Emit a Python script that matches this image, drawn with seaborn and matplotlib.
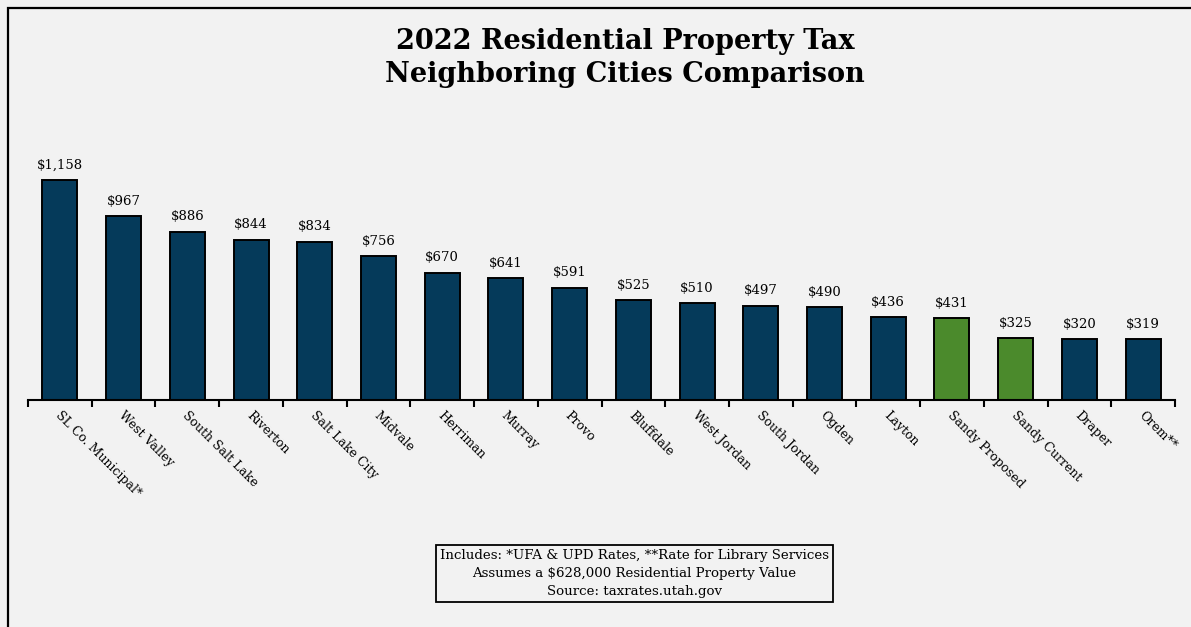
import matplotlib
matplotlib.use("Agg")
import matplotlib.pyplot as plt
import matplotlib.transforms as mtransforms
from matplotlib.patches import Rectangle
import seaborn as sns
import pandas as pd

cities = ["SL Co. Municipal*", "West Valley", "South Salt Lake", "Riverton",
          "Salt Lake City", "Midvale", "Herriman", "Murray", "Provo", "Bluffdale",
          "West Jordan", "South Jordan", "Ogden", "Layton", "Sandy Proposed",
          "Sandy Current", "Draper", "Orem**"]
tax = [1158, 967, 886, 844, 834, 756, 670, 641, 591, 525, 510, 497, 490, 436,
       431, 325, 320, 319]
group = ["Other"] * 14 + ["Sandy", "Sandy"] + ["Other"] * 2

title = "2022 Residential Property Tax\nNeighboring Cities Comparison"
note_lines = ["Includes: *UFA & UPD Rates, **Rate for Library Services",
              "Assumes a $628,000 Residential Property Value",
              "Source: taxrates.utah.gov"]

NAVY = "#053a5a"
GREEN = "#4b8a2c"
BG = "#f2f2f2"

df = pd.DataFrame({"city": cities, "tax": tax, "group": group})

sns.set_style("white")
plt.rcParams["font.family"] = ["DejaVu Serif"]
plt.rcParams["text.color"] = "black"
plt.rcParams["xtick.color"] = "black"
plt.rcParams["xtick.labelcolor"] = "black"

W, H = 1191, 627
fig = plt.figure(figsize=(W / 100, H / 100), dpi=100, facecolor=BG)
ax = fig.add_axes([28 / W, (H - 400) / H, (1175 - 28) / W, 266 / H])
ax.set_facecolor(BG)

sns.barplot(data=df, x="city", y="tax", hue="group",
            palette={"Other": NAVY, "Sandy": GREEN}, dodge=False, saturation=1,
            width=0.55, edgecolor="black", linewidth=1.4, legend=False, ax=ax)

ax.set_ylim(0, 1400)
ax.set_xlim(-0.5, len(cities) - 0.5)
for s in ["top", "right", "left"]:
    ax.spines[s].set_visible(False)
ax.spines["bottom"].set_linewidth(1.5)
ax.spines["bottom"].set_color("black")
ax.set_yticks([])
ax.set_xlabel("")
ax.set_ylabel("")

# value labels above each bar
for i, v in enumerate(tax):
    ax.annotate(f"${v:,}", (i, v), xytext=(0, 6), textcoords="offset points",
                ha="center", va="bottom", fontsize=9.5, color="black")

# category boundary ticks
ax.set_xticks([i - 0.5 for i in range(len(cities) + 1)], minor=True)
ax.tick_params(axis="x", which="minor", bottom=True, direction="out",
               length=5, width=1.5, color="black")
ax.set_xticks(range(len(cities)))
ax.tick_params(axis="x", which="major", bottom=True, length=0, pad=0)
labels = ax.set_xticklabels(cities, rotation=-45, ha="left", va="top",
                            rotation_mode="anchor", fontsize=9)
offset = mtransforms.ScaledTranslation(2 / 100, -9 / 100, fig.dpi_scale_trans)
for lab in labels:
    lab.set_transform(lab.get_transform() + offset)

fig.text(625 / W, 1 - 58 / H, title, ha="center", va="center",
         fontsize=19.5, fontweight="bold", linespacing=1.3, color="black")

fig.text(634 / W, 1 - 573 / H, "\n".join(note_lines), ha="center", va="center",
         fontsize=9.6, linespacing=1.5, color="black",
         bbox=dict(boxstyle="square,pad=0.3", facecolor=BG, edgecolor="black",
                   linewidth=1.3))

# outer frame (top and left edges visible)
fig.patches.append(Rectangle((7.5 / W, -0.1), 1.2, 1 - 8 / H + 0.1,
                             transform=fig.transFigure, fill=False,
                             edgecolor="black", linewidth=1.6))

fig.savefig("out.png", dpi=100, facecolor=BG)
